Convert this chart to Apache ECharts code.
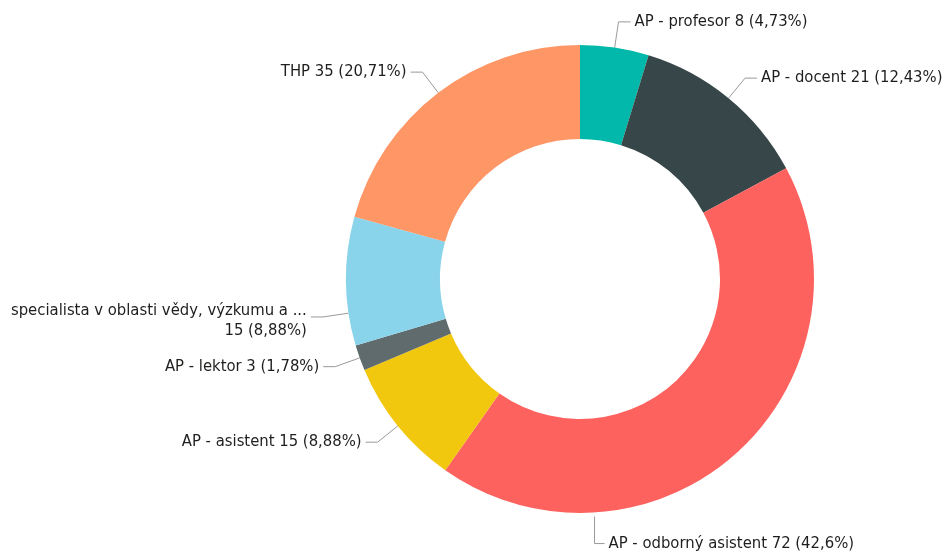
<!DOCTYPE html>
<html>
<head>
<meta charset="utf-8">
<script src="https://cdn.jsdelivr.net/npm/echarts@6/dist/echarts.min.js"></script>
<style>
  html, body { margin: 0; padding: 0; background: #fff; }
  #chart { width: 944px; height: 552px; }
</style>
</head>
<body>
<div id="chart"></div>
<script>
// pracovní pozice, po směru hodinových ručiček od 12 hodin
const categories = [
  'AP - profesor',
  'AP - docent',
  'AP - odborný asistent',
  'AP - asistent',
  'AP - lektor',
  'specialista v oblasti vědy, výzkumu a ...',
  'THP'
];
const counts = [8, 21, 72, 15, 3, 15, 35];
const colors = ['#01B8AA', '#374649', '#FD625E', '#F2C80F', '#5F6B6D', '#8AD4EB', '#FE9666'];

const total = counts.reduce((a, b) => a + b, 0);
const cx = 580, cy = 279, rIn = 140, rOut = 234;

function pct(v) {
  // 42.60 -> "42,6"
  return String(parseFloat((v / total * 100).toFixed(2))).replace('.', ',');
}

// bod na kružnici, úhel ve stupních od 12 hodin po směru hodin
function polar(deg, r) {
  const a = deg * Math.PI / 180;
  return [cx + r * Math.sin(a), cy - r * Math.cos(a)];
}

const chart = echarts.init(document.getElementById('chart'), null, { renderer: 'canvas' });

const option = {
  backgroundColor: '#ffffff',
  color: colors,
  series: [
    {
      type: 'pie',
      center: [cx, cy],
      radius: [rIn, rOut],
      startAngle: 90,
      clockwise: true,
      avoidLabelOverlap: true,
      data: categories.map((name, i) => ({ name: name, value: counts[i] })),
      itemStyle: { borderWidth: 0 },
      label: {
        show: true,
        position: 'outside',
        color: '#1f1e1d',
        fontFamily: 'DejaVu Sans Condensed, DejaVu Sans, sans-serif',
        fontSize: 16.5,
        lineHeight: 20,
        overflow: 'none',
        distanceToLabelLine: 4,
        formatter: function (p) {
          const sep = p.name.length > 30 ? '\n' : ' ';
          return p.name + sep + p.value + ' (' + pct(p.value) + '%)';
        }
      },
      labelLine: {
        show: true,
        length: 26,
        length2: 12,
        lineStyle: { color: '#9a9a9a', width: 1 }
      },
      labelLayout: function (params) {
        if (params.dataIndex === 2) {
          // velký výsek: popisek dole pod prstencem
          const p0 = polar(176.5, rOut + 4);
          const p1 = [p0[0], p0[1] + 27];
          const p2 = [p0[0] + 10, p1[1]];
          return {
            x: p2[0] + 4, y: p2[1], align: 'left', verticalAlign: 'middle',
            labelLinePoints: [p0, p1, p2]
          };
        }
        if (params.dataIndex === 5) {
          const p0 = polar(261.6, rOut);
          const p1 = polar(261.6, rOut + 26);
          const p2 = [p1[0] - 12, p1[1]];
          return {
            x: p2[0] - 4, y: p2[1] + 4, align: 'right', verticalAlign: 'middle',
            labelLinePoints: [p0, p1, p2]
          };
        }
      },
      emphasis: { disabled: true }
    }
  ]
};

chart.setOption(option);
</script>
</body>
</html>
